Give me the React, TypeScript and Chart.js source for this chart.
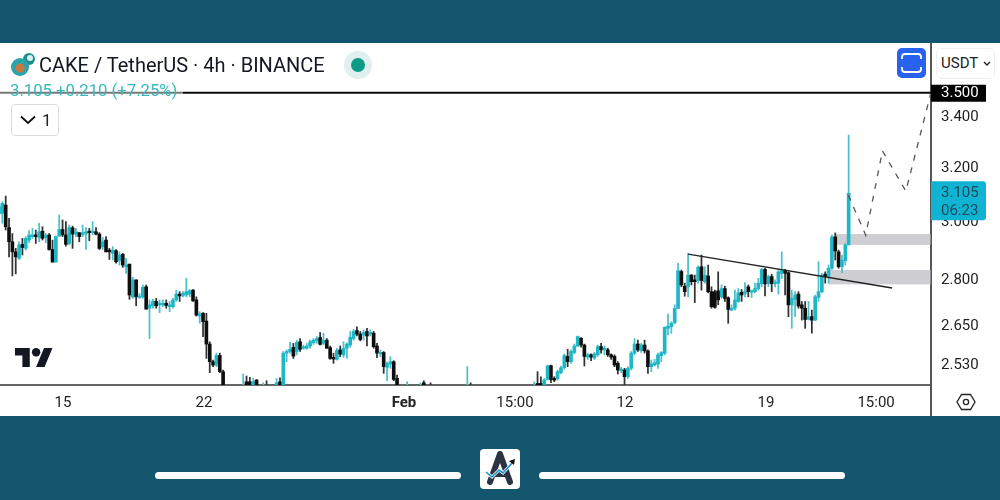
import { useEffect, useRef } from "react";
import { Chart, registerables } from "chart.js";

Chart.register(...registerables);

const _ = null;

// candle values, one slot per 4h bar. null = bar sits below the visible range
const opens = [
  3.030,3.032,3.062,2.981,2.931,2.896,2.874,2.922,2.908,2.937,
  2.949,2.955,2.946,2.968,2.946,2.955,2.904,2.861,2.951,2.974,
  2.955,2.925,2.980,2.958,2.963,2.955,2.960,2.966,2.963,2.966,
  2.958,2.914,2.937,2.902,2.891,2.900,2.866,2.887,2.845,2.854,
  2.745,2.801,2.743,2.745,2.778,2.708,2.716,2.730,2.719,2.719,
  2.724,2.713,2.713,2.735,2.754,2.750,2.751,2.754,2.767,2.735,
  2.683,2.692,2.667,2.595,2.541,2.531,2.560,2.511,_,_,
  _,_,_,2.45,2.481,2.481,2.46,2.486,_,2.45,
  2.465,_,_,2.46,2.481,2.46,2.567,2.572,2.585,2.572,
  2.602,2.582,2.582,2.589,2.599,2.605,2.615,2.597,2.607,2.584,
  2.554,2.548,2.577,2.562,2.582,2.592,2.612,2.637,2.626,2.623,
  2.634,2.626,2.629,2.589,2.565,2.569,2.524,2.534,2.541,2.491,
  _,_,2.45,_,_,_,2.45,2.478,_,2.46,
  _,_,_,_,_,_,_,_,_,_,
  2.45,2.46,_,_,_,_,_,_,_,_,
  _,_,_,_,_,_,_,_,_,_,
  2.45,2.476,2.476,2.471,2.488,2.529,2.491,2.491,2.508,2.523,
  2.557,2.541,2.569,2.589,2.613,2.592,2.555,2.562,2.552,2.562,
  2.587,2.577,2.577,2.562,2.557,2.536,2.514,2.516,2.496,2.521,
  2.567,2.595,2.575,2.592,2.574,2.526,2.531,2.534,2.559,2.567,
  2.644,2.649,2.662,2.707,2.829,2.780,2.778,2.817,2.801,2.799,
  2.845,2.795,2.814,2.762,2.762,2.765,2.745,2.772,2.742,2.702,
  2.708,2.730,2.760,2.756,2.778,2.760,2.762,2.772,2.788,2.836,
  2.788,2.812,2.788,2.790,2.823,2.832,2.825,2.719,2.737,2.754,
  2.719,2.708,2.672,2.681,2.670,2.743,2.762,2.820,2.812,2.840,
  2.948,2.896,2.845,2.866,2.920,
];
const highs = [
  3.068,3.074,3.095,3.014,2.960,2.908,2.931,2.943,2.949,2.970,
  2.978,2.972,2.996,2.984,2.960,2.960,2.937,2.951,3.026,3.008,
  3.002,2.990,2.986,2.978,2.963,2.990,2.981,2.978,3.002,2.981,
  2.963,2.946,2.949,2.908,2.914,2.904,2.896,2.891,2.874,2.854,
  2.810,2.801,2.756,2.784,2.784,2.735,2.737,2.740,2.735,2.735,
  2.735,2.730,2.740,2.767,2.762,2.762,2.806,2.769,2.769,2.745,
  2.697,2.694,2.692,2.602,2.546,2.567,2.567,2.516,_,_,
  _,_,_,2.504,2.498,2.494,2.491,2.488,_,2.478,
  2.484,_,_,2.491,2.493,2.572,2.577,2.600,2.597,2.607,
  2.612,2.592,2.597,2.607,2.612,2.618,2.631,2.629,2.612,2.589,
  2.567,2.582,2.589,2.602,2.599,2.634,2.641,2.649,2.634,2.639,
  2.644,2.639,2.634,2.597,2.577,2.572,2.541,2.556,2.544,2.501,
  _,_,2.481,_,_,_,2.478,2.484,_,2.478,
  _,_,_,_,_,_,_,_,_,_,
  2.526,2.478,_,_,_,_,_,_,_,_,
  _,_,_,_,_,_,_,_,_,_,
  2.481,2.511,2.496,2.491,2.531,2.531,2.496,2.516,2.528,2.565,
  2.579,2.577,2.595,2.620,2.615,2.595,2.567,2.565,2.569,2.592,
  2.597,2.589,2.582,2.565,2.562,2.541,2.524,2.521,2.526,2.572,
  2.612,2.607,2.597,2.607,2.577,2.546,2.548,2.567,2.572,2.649,
  2.689,2.665,2.719,2.857,2.834,2.790,2.891,2.819,2.817,2.848,
  2.885,2.845,2.851,2.778,2.767,2.828,2.784,2.780,2.745,2.719,
  2.767,2.772,2.769,2.792,2.784,2.767,2.790,2.806,2.840,2.840,
  2.817,2.820,2.801,2.836,2.896,2.836,2.828,2.767,2.762,2.762,
  2.730,2.730,2.730,2.702,2.751,2.862,2.823,2.828,2.851,2.954,
  2.962,2.902,2.885,2.925,3.328,
];
const lows = [
  3.020,2.996,2.972,2.879,2.814,2.821,2.870,2.885,2.902,2.928,
  2.943,2.925,2.931,2.937,2.928,2.902,2.861,2.861,2.949,2.949,
  2.916,2.920,2.908,2.949,2.931,2.949,2.904,2.935,2.955,2.955,
  2.904,2.904,2.896,2.870,2.868,2.857,2.851,2.843,2.823,2.737,
  2.740,2.716,2.740,2.740,2.705,2.612,2.708,2.708,2.694,2.713,
  2.708,2.697,2.708,2.730,2.730,2.745,2.745,2.745,2.730,2.683,
  2.660,2.618,2.551,2.508,2.526,2.526,2.508,2.45,_,_,
  _,_,_,2.44,2.45,2.45,2.45,2.45,_,2.44,
  2.44,_,_,2.45,2.45,2.45,2.541,2.567,2.551,2.562,
  2.572,2.579,2.579,2.582,2.594,2.597,2.592,2.592,2.582,2.548,
  2.536,2.546,2.556,2.554,2.551,2.585,2.607,2.620,2.605,2.607,
  2.589,2.620,2.582,2.553,2.556,2.506,2.484,2.521,2.484,2.45,
  _,_,2.44,_,_,_,2.44,2.44,_,2.44,
  _,_,_,_,_,_,_,_,_,_,
  2.44,2.44,_,_,_,_,_,_,_,_,
  _,_,_,_,_,_,_,_,_,_,
  2.44,2.45,2.45,2.46,2.486,2.478,2.481,2.486,2.504,2.518,
  2.526,2.536,2.565,2.587,2.585,2.528,2.548,2.544,2.548,2.557,
  2.567,2.562,2.557,2.548,2.526,2.504,2.508,2.471,2.491,2.516,
  2.562,2.572,2.569,2.567,2.506,2.511,2.528,2.521,2.541,2.562,
  2.623,2.628,2.658,2.707,2.778,2.747,2.745,2.784,2.726,2.790,
  2.767,2.790,2.758,2.708,2.708,2.719,2.740,2.730,2.660,2.700,
  2.702,2.727,2.730,2.745,2.745,2.743,2.758,2.767,2.778,2.748,
  2.778,2.762,2.778,2.754,2.806,2.751,2.681,2.644,2.681,2.708,
  2.670,2.644,2.670,2.629,2.668,2.730,2.758,2.790,2.790,2.836,
  2.868,2.840,2.825,2.851,2.920,
];
const closes = [
  3.056,3.068,2.984,2.931,2.896,2.879,2.920,2.911,2.943,2.955,
  2.955,2.949,2.966,2.943,2.953,2.904,2.861,2.949,2.974,2.955,
  2.922,2.981,2.958,2.966,2.949,2.963,2.966,2.963,2.966,2.958,
  2.908,2.931,2.896,2.896,2.902,2.862,2.885,2.851,2.851,2.751,
  2.801,2.745,2.748,2.776,2.705,2.719,2.730,2.716,2.724,2.724,
  2.717,2.719,2.735,2.754,2.748,2.756,2.762,2.765,2.732,2.686,
  2.690,2.665,2.595,2.541,2.531,2.560,2.511,2.46,_,_,
  _,_,_,2.465,2.46,2.46,2.481,2.46,_,2.465,
  2.45,_,_,2.478,2.46,2.567,2.572,2.579,2.558,2.600,
  2.579,2.585,2.589,2.602,2.607,2.612,2.594,2.607,2.582,2.551,
  2.549,2.575,2.564,2.582,2.595,2.616,2.634,2.626,2.609,2.631,
  2.620,2.631,2.587,2.567,2.569,2.526,2.536,2.541,2.488,2.46,
  _,_,2.46,_,_,_,2.46,2.46,_,2.45,
  _,_,_,_,_,_,_,_,_,_,
  2.46,2.45,_,_,_,_,_,_,_,_,
  _,_,_,_,_,_,_,_,_,_,
  2.46,2.46,2.46,2.486,2.528,2.488,2.486,2.511,2.523,2.560,
  2.541,2.572,2.589,2.618,2.592,2.557,2.562,2.555,2.565,2.587,
  2.577,2.582,2.562,2.555,2.531,2.516,2.518,2.496,2.521,2.567,
  2.595,2.577,2.592,2.574,2.526,2.534,2.538,2.562,2.569,2.647,
  2.651,2.660,2.707,2.832,2.784,2.762,2.817,2.795,2.795,2.843,
  2.799,2.817,2.762,2.713,2.711,2.735,2.772,2.740,2.704,2.708,
  2.735,2.758,2.751,2.762,2.762,2.764,2.772,2.790,2.836,2.788,
  2.812,2.788,2.792,2.828,2.832,2.823,2.719,2.740,2.751,2.715,
  2.708,2.672,2.681,2.670,2.745,2.762,2.817,2.812,2.840,2.948,
  2.899,2.845,2.868,2.920,3.105,
];

const priceTicks = [3.5, 3.4, 3.2, 3.0, 2.8, 2.65, 2.53];
const timeTickSlots = [19.13, 61.29, 121.07, 154.26, 187.15, 229.3, 262.2];
const timeTickLabels = ["15", "22", "Feb", "15:00", "12", "19", "15:00"];

const trendX = [206, 267];
const trendY = [2.888, 2.774];
const pathX = [253.9, 259.1, 264.1, 271.1, 278.6];
const pathY = [3.099, 2.954, 3.266, 3.113, 3.5];
const levelPrice = 3.5;
const lastPrice = 3.105;
const countdown = "06:23";
const zoneFrom = [250, 248];
const zoneHigh = [2.958, 2.834];
const zoneLow = [2.92, 2.786];

const X_MIN = 0.3;
const X_MAX = 278.62;
const TEAL = "#1fb6c6";
const FONT = "Roboto, sans-serif";

// keep the plot area flush with the canvas edges
const noPadding = (scale: any) => {
  scale.paddingTop = 0;
  scale.paddingBottom = 0;
  scale.paddingLeft = 0;
  scale.paddingRight = 0;
};

const overlays = {
  id: "overlays",
  beforeDatasetsDraw(chart: any) {
    const { ctx, scales, chartArea } = chart;
    ctx.save();
    ctx.fillStyle = "rgba(176,176,184,0.62)";
    zoneFrom.forEach((from, i) => {
      const left = scales.x.getPixelForValue(from);
      const top = scales.y.getPixelForValue(zoneHigh[i]);
      const bottom = scales.y.getPixelForValue(zoneLow[i]);
      ctx.fillRect(left, top, chartArea.right - left, bottom - top);
    });
    ctx.restore();
  },
  afterDraw(chart: any) {
    const { ctx, scales, chartArea } = chart;
    const right = chartArea.right;
    ctx.save();
    // the price axis line runs on past the time axis
    ctx.strokeStyle = "#555";
    ctx.lineWidth = 2;
    ctx.beginPath();
    ctx.moveTo(right, chartArea.bottom);
    ctx.lineTo(right, chart.height);
    ctx.stroke();

    ctx.textAlign = "left";
    ctx.textBaseline = "middle";
    ctx.font = `15px ${FONT}`;

    const levelY = scales.y.getPixelForValue(levelPrice);
    ctx.fillStyle = "#000";
    ctx.fillRect(right, levelY - 8, 55, 17);
    ctx.fillStyle = "#fff";
    ctx.fillText(levelPrice.toFixed(3), right + 10, levelY + 1);

    const lastY = scales.y.getPixelForValue(lastPrice);
    ctx.fillStyle = "#10b4d2";
    ctx.beginPath();
    ctx.roundRect(right, lastY - 12, 55, 39, [0, 3, 3, 0]);
    ctx.fill();
    ctx.fillStyle = "#1b4a5c";
    ctx.fillText(lastPrice.toFixed(3), right + 10, lastY);
    ctx.fillText(countdown, right + 10, lastY + 18);
    ctx.restore();
  },
};

const App = () => {
  const canvasRef = useRef<HTMLCanvasElement>(null);

  useEffect(() => {
    if (!canvasRef.current) return;

    const slots = opens.map((o, i) => i).filter((i) => opens[i] !== null);
    const colorOf = (i: number) =>
      (closes[i] as number) >= (opens[i] as number) ? TEAL : "#0e0e0e";

    const chart = new Chart(canvasRef.current, {
      type: "bar",
      data: {
        datasets: [
          {
            type: "bar",
            label: "wicks",
            data: slots.map((i) => ({ x: i, y: [lows[i], highs[i]] })) as any,
            backgroundColor: slots.map((i) =>
              (closes[i] as number) >= (opens[i] as number) ? "#4cc0cb" : "#333"
            ),
            barThickness: 1.1,
            grouped: false,
            order: 3,
          },
          {
            type: "bar",
            label: "bodies",
            data: slots.map((i) => ({ x: i, y: [opens[i], closes[i]] })) as any,
            backgroundColor: slots.map(colorOf),
            barThickness: 3,
            minBarLength: 1.5,
            grouped: false,
            order: 2,
          },
          {
            type: "line",
            label: "level",
            data: [
              { x: X_MIN, y: levelPrice },
              { x: X_MAX, y: levelPrice },
            ],
            borderColor: "#0a0a0a",
            borderWidth: 2,
            pointRadius: 0,
            order: 1,
          },
          {
            type: "line",
            label: "trend",
            data: trendX.map((x, i) => ({ x, y: trendY[i] })),
            borderColor: "#222",
            borderWidth: 1.3,
            pointRadius: 0,
            order: 1,
          },
          {
            type: "line",
            label: "path",
            data: pathX.map((x, i) => ({ x, y: pathY[i] })),
            borderColor: "#555",
            borderWidth: 1.3,
            borderDash: [6, 7],
            pointRadius: 0,
            order: 1,
          },
        ],
      },
      options: {
        animation: false,
        responsive: false,
        plugins: { legend: { display: false }, tooltip: { enabled: false } },
        scales: {
          x: {
            type: "linear",
            offset: false,
            min: X_MIN,
            max: X_MAX,
            grid: { display: false, drawTicks: false },
            border: { color: "#666", width: 2 },
            afterFit: (scale: any) => {
              scale.height = 31;
              noPadding(scale);
            },
            afterBuildTicks: (scale: any) => {
              scale.ticks = timeTickSlots.map((value) => ({ value }));
            },
            ticks: {
              autoSkip: false,
              maxRotation: 0,
              padding: 9,
              color: "#222",
              font: (ctx: any) => ({
                family: FONT,
                size: 15,
                weight: ctx.tick && ctx.tick.label === "Feb" ? "bold" : "normal",
              }),
              callback: (value: any) =>
                timeTickLabels[timeTickSlots.indexOf(Number(value))],
            },
          },
          y: {
            type: "logarithmic",
            position: "right",
            min: 2.4715,
            max: 3.7135,
            grid: { display: false, drawTicks: false },
            border: { color: "#555", width: 2 },
            afterFit: (scale: any) => {
              scale.width = 69;
              noPadding(scale);
            },
            afterBuildTicks: (scale: any) => {
              scale.ticks = priceTicks.map((value) => ({ value }));
            },
            ticks: {
              autoSkip: false,
              padding: 10,
              color: "#222",
              font: { family: FONT, size: 15 },
              callback: (value: any) => Number(value).toFixed(3),
            },
          },
        },
      },
      plugins: [overlays],
    } as any);

    return () => chart.destroy();
  }, []);

  const abs = (left: number, top: number, extra: any = {}) => ({
    position: "absolute" as const,
    left,
    top,
    ...extra,
  });

  return (
    <div
      style={{
        position: "absolute",
        left: 0,
        top: 0,
        width: 1000,
        height: 500,
        overflow: "hidden",
        background: "#15566f",
        fontFamily: FONT,
      }}
    >
      <div style={abs(0, 43, { width: 1000, height: 373, background: "#fff" })}>
        <canvas ref={canvasRef} width={1000} height={373} style={{ display: "block" }} />
      </div>

      {/* coin icon */}
      <svg style={abs(9, 50)} width={28} height={28} viewBox="0 0 28 28">
        <circle cx={20} cy={9} r={6} fill="#1f8f8c" />
        <circle cx={21} cy={8} r={3} fill="#d9f0ee" />
        <circle cx={11} cy={17} r={9} fill="#2aa3ad" />
        <circle cx={11} cy={18} r={4.5} fill="#c9783f" />
      </svg>
      <div style={abs(39, 52, { fontSize: 20, lineHeight: "26px", color: "#131722", whiteSpace: "nowrap" })}>
        CAKE / TetherUS · 4h · BINANCE
      </div>
      <div style={abs(344, 51, { width: 28, height: 28, borderRadius: 14, background: "#dff0ee" })} />
      <div style={abs(351, 58, { width: 14, height: 14, borderRadius: 7, background: "#0c9b85" })} />

      {/* legend sits on a see-through strip above the level line */}
      <div style={abs(0, 82, { width: 183, height: 18, background: "rgba(255,255,255,0.45)" })} />
      <div style={abs(10, 81, { fontSize: 16.7, lineHeight: "20px", color: "#35b9bd", whiteSpace: "nowrap" })}>
        3.105 +0.210 (+7.25%)
      </div>

      <div
        style={abs(11, 104, {
          width: 46,
          height: 30,
          border: "1px solid #dcdcdc",
          borderRadius: 4,
          background: "#fff",
        })}
      />
      <svg style={abs(20, 115)} width={16} height={10} viewBox="0 0 16 10">
        <path d="M1 1.5 L8 8 L15 1.5" fill="none" stroke="#111" strokeWidth={1.8} />
      </svg>
      <div style={abs(42, 109, { fontSize: 17, lineHeight: "22px", color: "#222" })}>1</div>

      {/* TradingView mark */}
      <svg style={abs(15, 348)} width={38} height={19} viewBox="0 4 36 18">
        <path d="M14 22H7V11H0V4h14v18zM28 22h-8l7.5-18h8L28 22z" fill="#131722" />
        <circle cx={20} cy={8} r={4} fill="#131722" />
      </svg>

      <div style={abs(897, 48, { width: 29, height: 30, borderRadius: 5, background: "#2a62f0" })} />
      <svg style={abs(901, 53)} width={21} height={20} viewBox="0 0 21 20">
        <path
          d="M1 6 V4 Q1 1 4 1 H17 Q20 1 20 4 V6 M1 14 V16 Q1 19 4 19 H17 Q20 19 20 16 V14"
          fill="none"
          stroke="#fff"
          strokeWidth={1.8}
        />
      </svg>

      <div
        style={abs(936, 48, {
          width: 59,
          height: 31,
          border: "1px solid #eee",
          borderRadius: 6,
          boxSizing: "border-box",
          background: "#fff",
        })}
      />
      <div style={abs(941, 53, { fontSize: 15, lineHeight: "20px", color: "#222" })}>USDT</div>
      <svg style={abs(983, 61)} width={8} height={6} viewBox="0 0 8 6">
        <path d="M1 1 L4 4 L7 1" fill="none" stroke="#222" strokeWidth={1.4} />
      </svg>

      <svg style={abs(956, 392)} width={20} height={20} viewBox="0 0 20 20">
        <path d="M5.5 2.5 H14.5 L19 10 L14.5 17.5 H5.5 L1 10 Z" fill="none" stroke="#222" strokeWidth={1.3} />
        <circle cx={10} cy={10} r={2.6} fill="none" stroke="#222" strokeWidth={1.3} />
      </svg>

      {/* footer */}
      <div style={abs(155, 472, { width: 306, height: 7, borderRadius: 4, background: "#fff" })} />
      <div style={abs(539, 472, { width: 306, height: 7, borderRadius: 4, background: "#fff" })} />
      <div style={abs(480, 449, { width: 40, height: 40, borderRadius: 4, background: "#fff" })} />
      <svg style={abs(480, 449)} width={40} height={40} viewBox="0 0 40 40">
        <path
          d="M20 5 L30 33 M20 5 L10 33 M13.5 25 H26.5"
          fill="none"
          stroke="#2c3442"
          strokeWidth={6}
          strokeLinecap="round"
        />
        <path d="M6 23 L12 28 L19 21 L23 24 L34 12" fill="none" stroke="#fff" strokeWidth={3} />
        <path d="M6 23 L12 28 L19 21 L23 24 L33 13" fill="none" stroke="#1792c9" strokeWidth={1.6} />
        <path d="M29 12 L35 10 L34 16 Z" fill="#111" />
      </svg>
    </div>
  );
};

export default App;
